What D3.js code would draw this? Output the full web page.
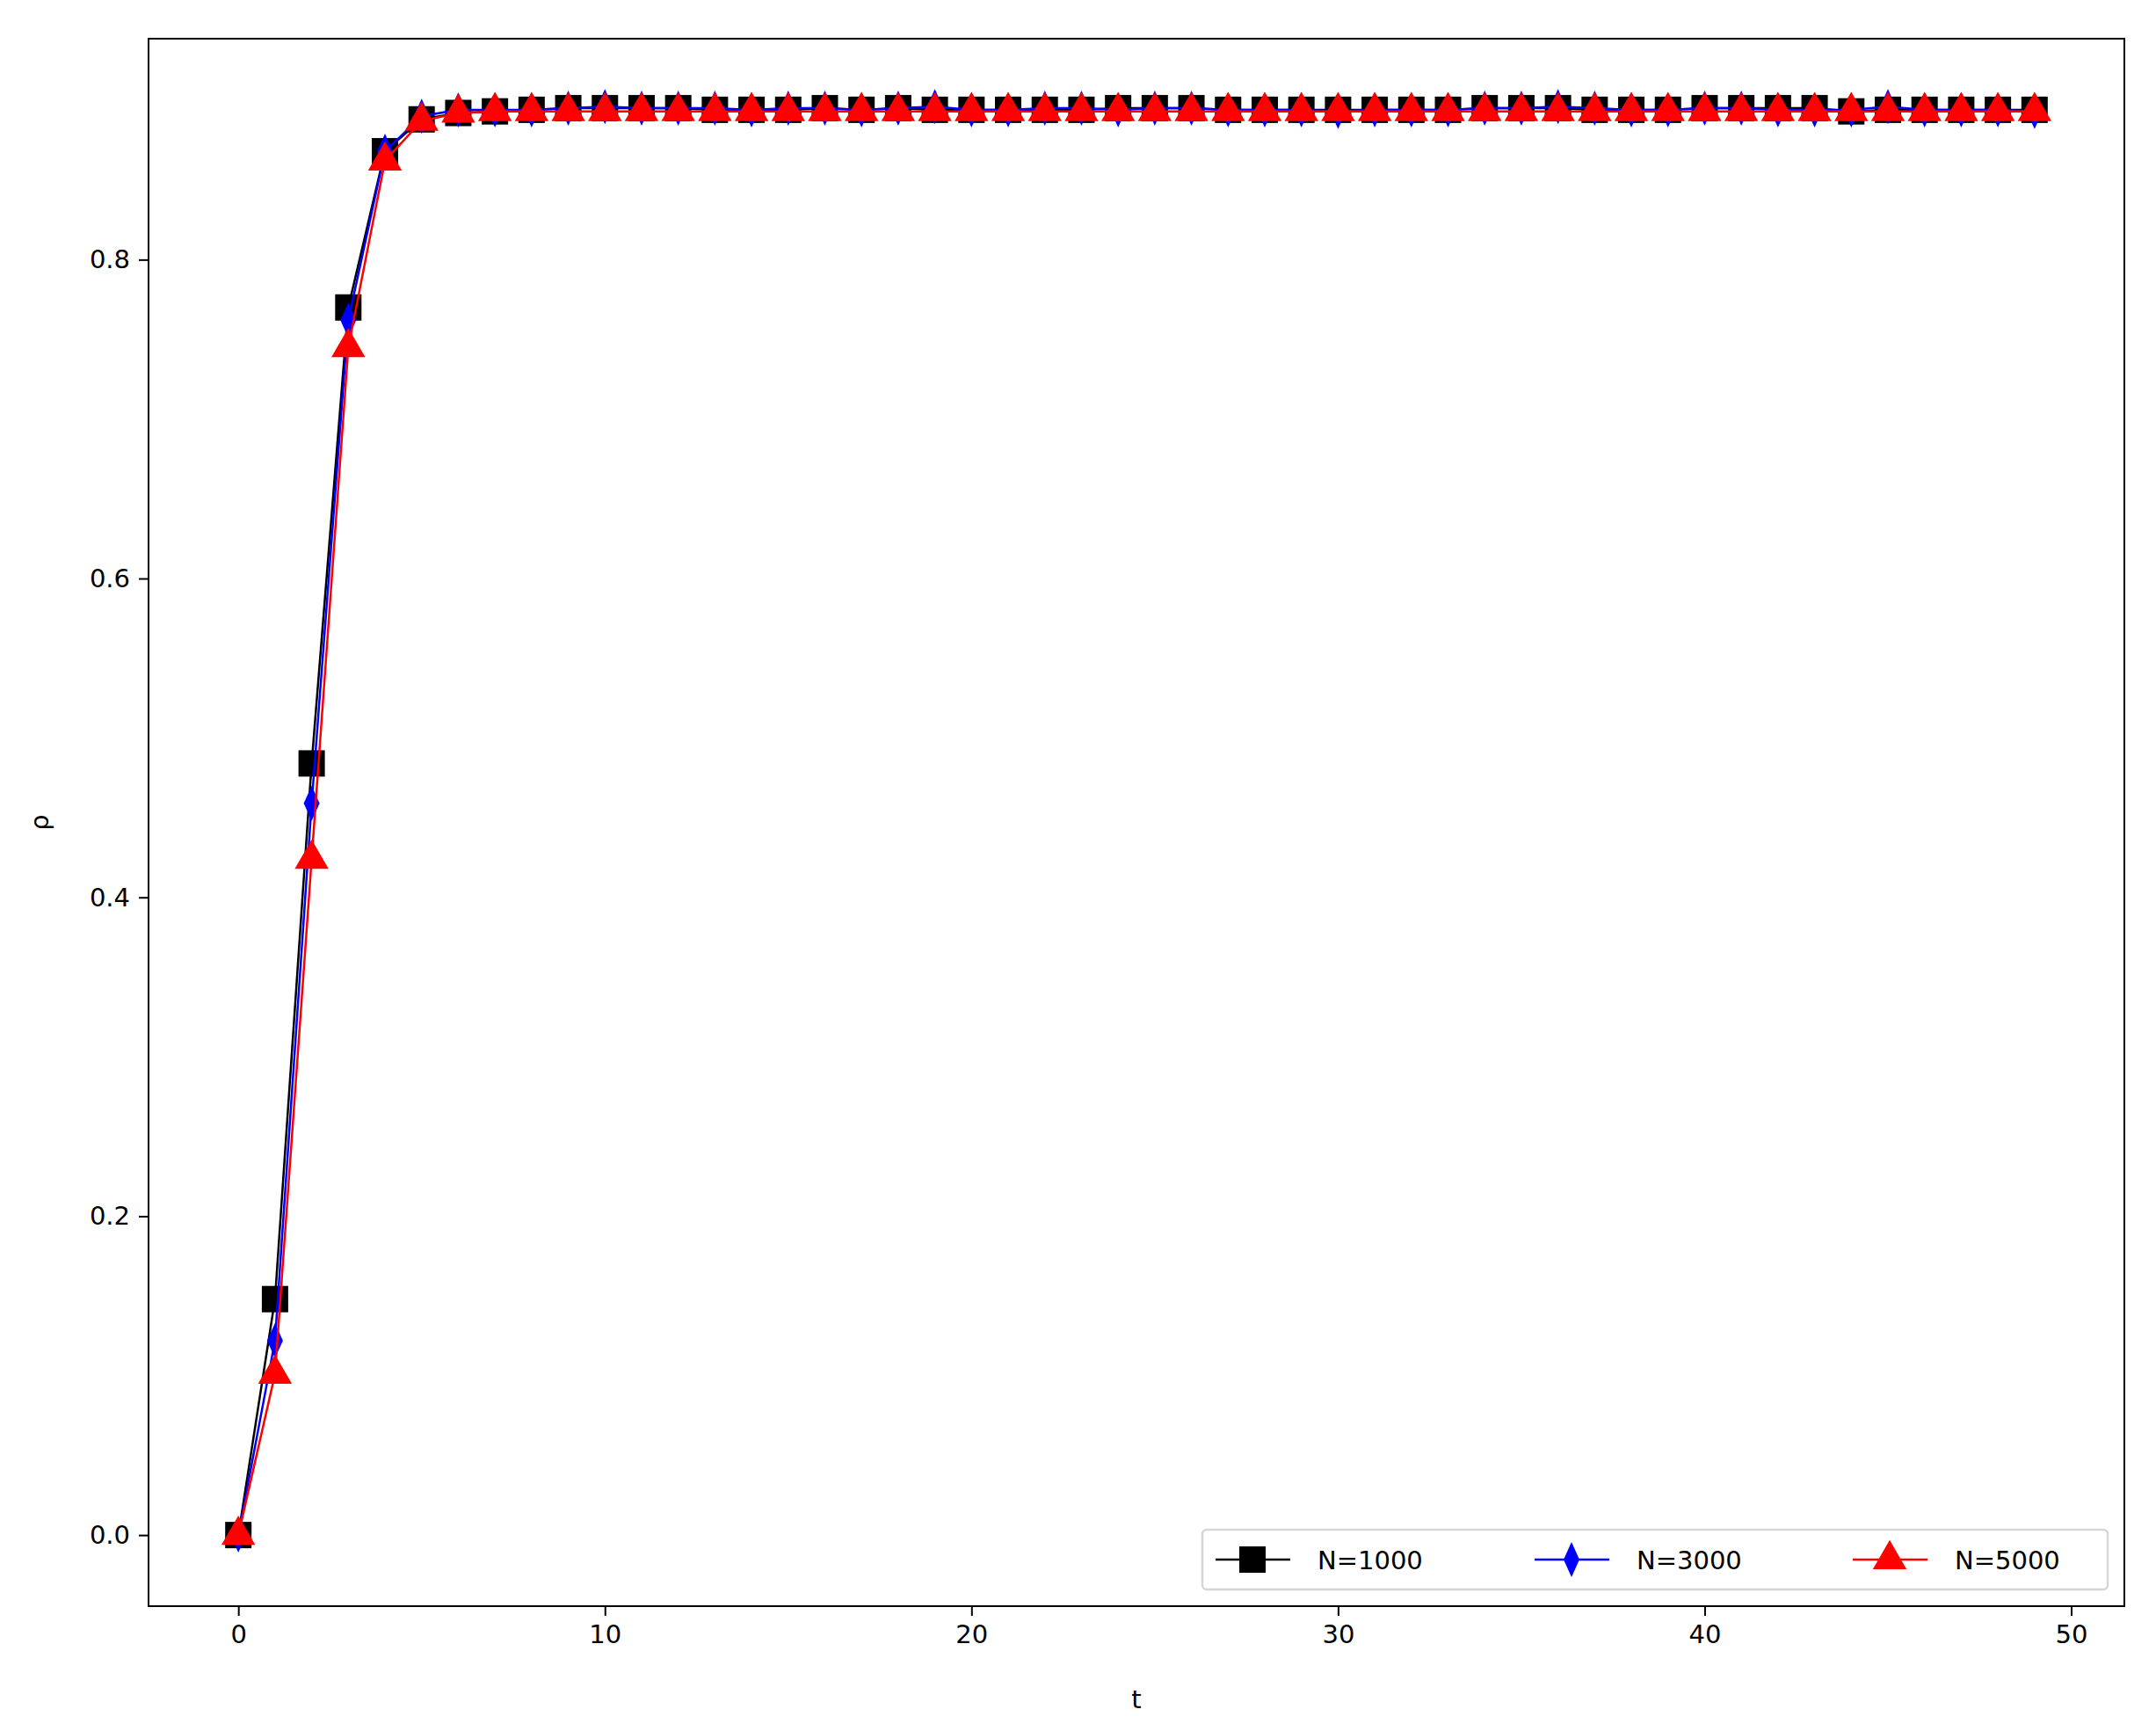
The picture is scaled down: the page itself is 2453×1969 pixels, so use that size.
<!DOCTYPE html>
<html>
<head>
<meta charset="utf-8">
<script src="https://cdn.jsdelivr.net/npm/d3@7"></script>
<style>body{margin:0;background:#fff;} text{font-family:"DejaVu Sans",sans-serif;}</style>
</head>
<body>
<div id="chart"></div>
<script>
// data
const t = d3.range(0, 50);
const n1000 = [0, 0.148, 0.484, 0.770, 0.868, 0.888, 0.892, 0.893, 0.894, 0.895,
  0.895, 0.895, 0.895, 0.894, 0.894, 0.894, 0.895, 0.894, 0.895, 0.894,
  0.894, 0.894, 0.894, 0.894, 0.895, 0.895, 0.895, 0.894, 0.894, 0.894,
  0.894, 0.894, 0.894, 0.894, 0.895, 0.895, 0.895, 0.894, 0.894, 0.894,
  0.895, 0.895, 0.895, 0.895, 0.893, 0.894, 0.894, 0.894, 0.894, 0.894];
const n3000 = [0, 0.122, 0.459, 0.762, 0.868, 0.890, 0.894, 0.894, 0.894, 0.895,
  0.896, 0.895, 0.895, 0.895, 0.894, 0.895, 0.895, 0.894, 0.895, 0.896,
  0.894, 0.894, 0.895, 0.895, 0.894, 0.895, 0.895, 0.894, 0.894, 0.894,
  0.893, 0.894, 0.894, 0.894, 0.895, 0.895, 0.896, 0.895, 0.894, 0.894,
  0.895, 0.895, 0.894, 0.894, 0.894, 0.896, 0.894, 0.894, 0.894, 0.893];
const n5000 = [0, 0.101, 0.424, 0.745, 0.862, 0.887, 0.892, 0.893, 0.893, 0.893,
  0.893, 0.893, 0.893, 0.893, 0.893, 0.893, 0.893, 0.893, 0.893, 0.893,
  0.893, 0.893, 0.893, 0.893, 0.893, 0.893, 0.893, 0.893, 0.893, 0.893,
  0.893, 0.893, 0.893, 0.893, 0.893, 0.893, 0.893, 0.893, 0.893, 0.893,
  0.893, 0.893, 0.893, 0.893, 0.893, 0.893, 0.893, 0.893, 0.893, 0.893];
const seriesNames = ['N=1000', 'N=3000', 'N=5000'];
const xTicks = [0, 10, 20, 30, 40, 50];
const yTicks = [0.0, 0.2, 0.4, 0.6, 0.8];

const W = 2453, H = 1969;
const L = 169, R = 2417, T = 44, B = 1827;

const svg = d3.select('#chart').append('svg').attr('width', W).attr('height', H);

const x = d3.scaleLinear().domain([-2.45, 51.45]).range([L, R]);
const y = d3.scaleLinear().domain([-0.0446, 0.9386]).range([B, T]);

// axes
const xAxisG = svg.append('g').attr('transform', `translate(0,${B})`)
  .call(d3.axisBottom(x).tickValues(xTicks).tickFormat(d3.format('d')).tickSize(11).tickPadding(10));
const yAxisG = svg.append('g').attr('transform', `translate(${L},0)`)
  .call(d3.axisLeft(y).tickValues(yTicks).tickFormat(d3.format('.1f')).tickSize(11).tickPadding(10));
[xAxisG, yAxisG].forEach(g => {
  g.select('.domain').remove();
  g.selectAll('line').attr('stroke', '#000').attr('stroke-width', 2);
  g.selectAll('text').style('font-size', '29px').attr('fill', '#000').style('font-family', '"DejaVu Sans",sans-serif');
});

svg.append('text').attr('x', (L + R) / 2).attr('y', 1943).attr('text-anchor', 'middle')
  .style('font-size', '29px').text('t');
svg.append('text').attr('transform', `translate(55,${(T + B) / 2}) rotate(-90)`).attr('text-anchor', 'middle')
  .style('font-size', '29px').text('ρ');

const plot = svg.append('g');
const line = d3.line().x((d, i) => x(t[i])).y(d => y(d));

const sq = d3.symbol().type(d3.symbolSquare).size(30 * 30)();
const diamond = 'M0,-20L9,0L0,20L-9,0Z';
const tri = d3.symbol().type(d3.symbolTriangle).size(640)();

const series = [
  { name: seriesNames[0], vals: n1000, color: '#000000', path: sq },
  { name: seriesNames[1], vals: n3000, color: '#0000ff', path: diamond },
  { name: seriesNames[2], vals: n5000, color: '#ff0000', path: tri }
];

series.forEach(s => {
  plot.append('path').datum(s.vals).attr('d', line)
    .attr('fill', 'none').attr('stroke', s.color).attr('stroke-width', 2.5);
  plot.selectAll(null).data(s.vals).enter().append('path')
    .attr('d', s.path)
    .attr('transform', (d, i) => `translate(${x(t[i])},${y(d)})`)
    .attr('fill', s.color);
});

// frame
svg.append('rect').attr('x', L).attr('y', T).attr('width', R - L).attr('height', B - T)
  .attr('fill', 'none').attr('stroke', '#000').attr('stroke-width', 2);

// legend
const lg = svg.append('g').attr('transform', 'translate(1368,1740)');
lg.append('rect').attr('width', 1030).attr('height', 68).attr('rx', 5)
  .attr('fill', '#fff').attr('fill-opacity', 0.8).attr('stroke', '#d6d6d6').attr('stroke-width', 2.5);
const offs = [15, 378, 740];
series.forEach((s, i) => {
  const g = lg.append('g').attr('transform', `translate(${offs[i]},34)`);
  g.append('line').attr('x1', 0).attr('x2', 85).attr('stroke', s.color).attr('stroke-width', 2.5);
  g.append('path').attr('d', s.path).attr('transform', 'translate(42,0)').attr('fill', s.color);
  g.append('text').attr('x', 116).attr('y', 11).style('font-size', '29px').text(s.name);
});
</script>
</body>
</html>
